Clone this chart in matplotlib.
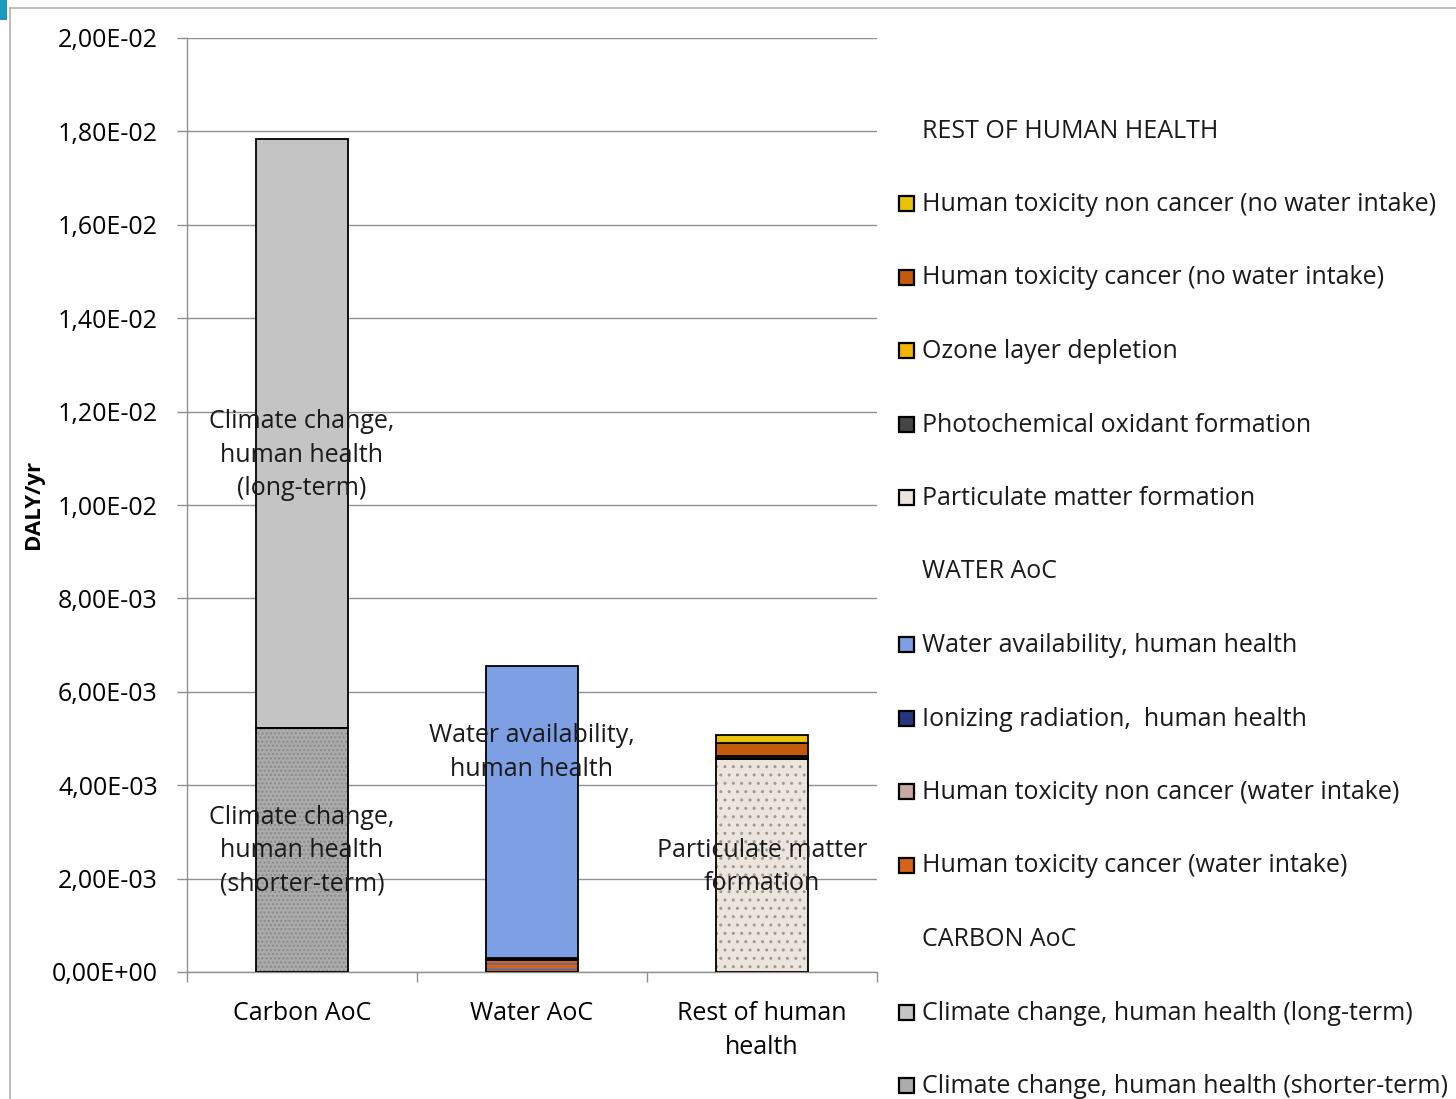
import matplotlib

matplotlib.use("Agg")
import matplotlib.pyplot as plt
from matplotlib.patches import Rectangle
from matplotlib.lines import Line2D
import numpy as np

plt.rcParams["font.family"] = ["Open Sans", "DejaVu Sans"]

# ---- data (DALY/yr) ----
categories = ["Carbon AoC", "Water AoC", "Rest of human\nhealth"]

# stacked segments, bottom -> top, per category
carbon_names = ["Climate change, human health (shorter-term)",
                "Climate change, human health (long-term)"]
carbon_vals = [5.22e-3, 12.62e-3]

water_names = ["Human toxicity cancer (water intake)",
               "Human toxicity non cancer (water intake)",
               "Ionizing radiation,  human health",
               "Water availability, human health"]
water_vals = [0.26e-3, 0.03e-3, 0.02e-3, 6.24e-3]

rest_names = ["Particulate matter formation",
              "Photochemical oxidant formation",
              "Ozone layer depletion",
              "Human toxicity cancer (no water intake)",
              "Human toxicity non cancer (no water intake)"]
rest_vals = [4.56e-3, 0.02e-3, 0.04e-3, 0.28e-3, 0.17e-3]

yticks = np.arange(0, 0.0201, 0.002)

# legend order, top -> bottom (None = group header)
legend_rows = [
    ("REST OF HUMAN HEALTH", None),
    ("Human toxicity non cancer (no water intake)", "x"),
    ("Human toxicity cancer (no water intake)", "x"),
    ("Ozone layer depletion", "x"),
    ("Photochemical oxidant formation", "x"),
    ("Particulate matter formation", "x"),
    ("WATER AoC", None),
    ("Water availability, human health", "x"),
    ("Ionizing radiation,  human health", "x"),
    ("Human toxicity non cancer (water intake)", "x"),
    ("Human toxicity cancer (water intake)", "x"),
    ("CARBON AoC", None),
    ("Climate change, human health (long-term)", "x"),
    ("Climate change, human health (shorter-term)", "x"),
]

# style: face colour, hatch, hatch colour
styles = {
    "Climate change, human health (shorter-term)": ("#ababab", "....", "#8a8a8a"),
    "Climate change, human health (long-term)": ("#c4c4c4", None, None),
    "Human toxicity cancer (water intake)": ("#d8641c", "---", "#3f6fb8"),
    "Human toxicity non cancer (water intake)": ("#c9aaa2", None, None),
    "Ionizing radiation,  human health": ("#27357f", None, None),
    "Water availability, human health": ("#7e9fe3", "", None),
    "Particulate matter formation": ("#ebe5dd", "..", "#a09a94"),
    "Photochemical oxidant formation": ("#454545", None, None),
    "Ozone layer depletion": ("#f2b705", None, None),
    "Human toxicity cancer (no water intake)": ("#c45a0c", None, None),
    "Human toxicity non cancer (no water intake)": ("#e9c20a", None, None),
}

# in-bar labels: (category index, text, y in data units)
bar_labels = [
    (0, "Climate change,\nhuman health\n(long-term)", 11.07e-3),
    (0, "Climate change,\nhuman health\n(shorter-term)", 2.6e-3),
    (1, "Water availability,\nhuman health", 4.7e-3),
    (2, "Particulate matter\nformation", 2.25e-3),
]

W, H = 1456, 1099
fig = plt.figure(figsize=(W / 100, H / 100), dpi=100)
ax = fig.add_axes([187 / W, 1 - 972 / H, 690 / W, 934 / H])

FS = 18
LS = 1.45
width = 0.40
x = np.arange(len(categories))
grid_c = "#8f8f8f"


def stack(ax, xi, names, vals):
    bottom = 0.0
    for n, v in zip(names, vals):
        fc, hatch, hc = styles[n]
        if hatch:
            ax.bar(xi, v, width, bottom=bottom, color=fc, edgecolor=hc,
                   hatch=hatch, linewidth=0, zorder=3)
            ax.bar(xi, v, width, bottom=bottom, fill=False, edgecolor="black",
                   linewidth=1.3, zorder=4)
        else:
            ax.bar(xi, v, width, bottom=bottom, color=fc, edgecolor="black",
                   linewidth=1.3, zorder=3)
        bottom += v


stack(ax, x[0], carbon_names, carbon_vals)
stack(ax, x[1], water_names, water_vals)
stack(ax, x[2], rest_names, rest_vals)

for ci, txt, yv in bar_labels:
    ax.text(x[ci], yv, txt, ha="center", va="center", fontsize=FS,
            color="#1a1a1a", linespacing=LS, zorder=6)

ax.set_xlim(-0.5, 2.5)
ax.set_ylim(0, 0.02)
ax.set_yticks(yticks)
ax.set_yticklabels([("%.2E" % v).replace(".", ",") for v in yticks], fontsize=FS)
ax.yaxis.grid(True, color=grid_c, linewidth=1.0, zorder=0)
ax.set_axisbelow(True)

ax.set_xticks(x)
ax.set_xticklabels(categories, fontsize=FS, linespacing=LS)
ax.tick_params(axis="x", length=0, pad=21)
ax.set_xticks(np.arange(-0.5, 3.0, 1.0), minor=True)
ax.tick_params(axis="x", which="minor", length=7, color=grid_c, width=1.0)
ax.tick_params(axis="y", length=7, color=grid_c, width=1.0, pad=14)

for side in ("top", "right"):
    ax.spines[side].set_visible(False)
ax.spines["left"].set_color(grid_c)
ax.spines["bottom"].set_color(grid_c)
ax.spines["left"].set_linewidth(1.0)
ax.spines["bottom"].set_linewidth(1.0)

fig.text(34 / W, 1 - 504 / H, "DALY/yr", rotation=90, ha="center", va="center",
         fontsize=16, fontweight="bold")

# ---- legend drawn on the figure ----
y0, dy = 131, 73.5
for i, (label, kind) in enumerate(legend_rows):
    yp = y0 + i * dy
    fig.text(922 / W, 1 - yp / H, label, ha="left", va="center", fontsize=FS,
             color="#1a1a1a")
    if kind is None:
        continue
    fc, hatch, hc = styles[label]
    s = 15
    fig.patches.append(Rectangle(((899) / W, 1 - (yp + s / 2 - 1) / H), s / W, s / H,
                                 transform=fig.transFigure, facecolor=fc,
                                 edgecolor="black", linewidth=1.6))

# page frame of the screenshot
fig.add_artist(Line2D([10 / W, 1], [1 - 8 / H, 1 - 8 / H], color="#b0b0b0", lw=1.2))
fig.add_artist(Line2D([10 / W, 10 / W], [1 - 8 / H, 0], color="#b0b0b0", lw=1.2))
fig.patches.append(Rectangle((0, 1 - 20 / H), 7 / W, 20 / H, transform=fig.transFigure,
                             facecolor="#1a9bbf", edgecolor="none"))

fig.savefig("out.png", dpi=100)
